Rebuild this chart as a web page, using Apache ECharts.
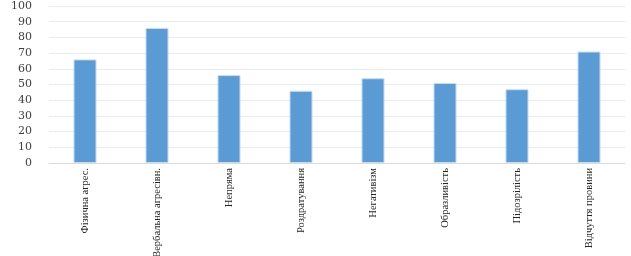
<!DOCTYPE html>
<html><head><meta charset="utf-8">
<script src="https://cdn.jsdelivr.net/npm/echarts@6/dist/echarts.min.js"></script>
<style>html,body{margin:0;padding:0;background:#fff}#c{width:631px;height:256px}</style>
</head><body><div id="c"></div>
<script>
const categories = ["Фізична агрес.", "Вербальна агресівн.", "Непряма", "Роздратування", "Негативізм", "Образливість", "Підозрілість", "Відчуття провини"];
const values = [66, 86, 56, 46, 54, 51, 47, 71];
const yTicks = [0, 10, 20, 30, 40, 50, 60, 70, 80, 90, 100];

const chart = echarts.init(document.getElementById('c'), null, {renderer: 'canvas'});
chart.setOption({
  animation: false,
  grid: {left: 49, right: 6, top: 6, bottom: 93, containLabel: false, outerBoundsMode: 'none'},
  xAxis: {
    type: 'category', data: categories,
    axisLine: {lineStyle: {color: '#d9d9d9'}},
    axisTick: {show: false},
    axisLabel: {rotate: 90, interval: 0, margin: 5, color: '#262626',
      fontFamily: 'Liberation Serif', fontSize: 10.5}
  },
  yAxis: {
    type: 'value', min: yTicks[0], max: yTicks[yTicks.length - 1], interval: 10,
    axisLine: {show: false}, axisTick: {show: false},
    splitLine: {lineStyle: {color: '#ececec'}},
    axisLabel: {color: '#404040', fontFamily: 'DejaVu Serif', fontSize: 11, margin: 17}
  },
  series: [{
    type: 'bar', data: values, barWidth: '32%',
    itemStyle: {color: '#5b9bd5', borderColor: '#c9ddf2', borderWidth: 1}
  }]
});
</script></body></html>
